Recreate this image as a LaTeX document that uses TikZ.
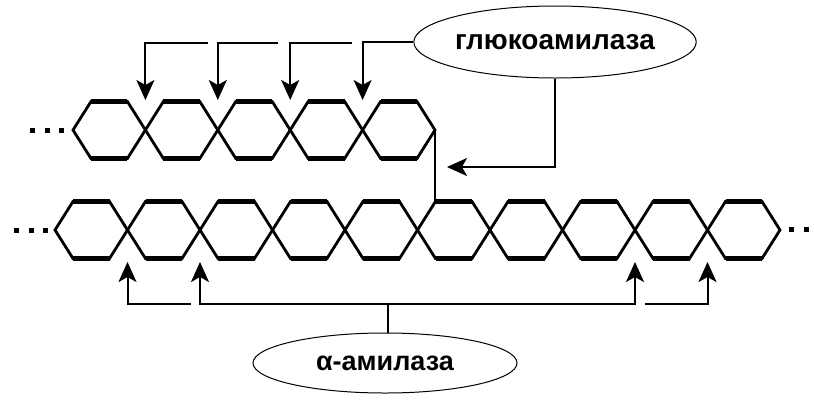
\documentclass[tikz,border=0pt]{standalone}
\usepackage{fontspec}
\setmainfont{Liberation Sans}
\usetikzlibrary{arrows.meta,shapes.geometric}
\begin{document}
\begin{tikzpicture}[x=1pt,y=-1pt,
  hexline/.style={line width=2.8pt,line join=miter},
  hexbar/.style={line width=4.2pt},
  conn/.style={line width=2pt},
  arr/.style={conn,-{Stealth[length=20pt,width=18pt,inset=5pt]}},
  enzyme/.style={ellipse,draw,line width=1pt,inner sep=0pt,minimum width=264pt},
  dotsq/.style={fill,minimum size=5pt,inner sep=0pt}]
\useasboundingbox (0,0) rectangle (814,400);

% top chain (5 units)
\foreach \i in {0,...,4}{
  \pgfmathsetmacro\xl{73+72.4*\i}
  \draw[hexline] (\xl,130) -- ++(18,-28.5) -- ++(36.4,0) -- ++(18,28.5)
     -- ++(-18,28.5) -- ++(-36.4,0) -- cycle;
  \draw[hexbar] (\xl+18,101.5) -- ++(36.4,0);
  \draw[hexbar] (\xl+18,158.5) -- ++(36.4,0);
}
% bottom chain (10 units)
\foreach \i in {0,...,9}{
  \pgfmathsetmacro\xl{55+72.5*\i}
  \draw[hexline] (\xl,230) -- ++(18,-28.5) -- ++(36.5,0) -- ++(18,28.5)
     -- ++(-18,28.5) -- ++(-36.5,0) -- cycle;
  \draw[hexbar] (\xl+18,201.5) -- ++(36.5,0);
  \draw[hexbar] (\xl+18,258.5) -- ++(36.5,0);
}
% branch point link
\coordinate (br1) at (435,130);
\coordinate (br2) at (435,201.5);
\draw[line width=2.6pt] (br1) -- (br2);

% dots
\foreach \x in {32,47,61} \node[dotsq] (dt\x) at (\x,130) {};
\foreach \x in {16,31,45} \node[dotsq] (db\x) at (\x,230) {};
\foreach \x in {791,806} \node[dotsq] (dr\x) at (\x,229) {};

% enzymes
\node[enzyme,minimum height=72pt,font=\fontsize{28}{33}\selectfont\bfseries]
  (G) at (555,42) {\raisebox{-2.5pt}{глюкоамилаза}};
\node[enzyme,minimum height=60pt,font=\fontsize{27}{32}\selectfont\bfseries]
  (A) at (385,363) {\raisebox{-5pt}{α-амилаза}};

% targets top
\coordinate (g1) at (145.4,100);
\coordinate (g2) at (217.8,100);
\coordinate (g3) at (290.2,100);
\coordinate (g4) at (362.6,100);
\coordinate (h1) at (208,43);
\coordinate (h2) at (278,43);
\coordinate (h3) at (352,43);
\draw[arr] (G.west) -| (g4);
\draw[arr] (h3) -| (g3);
\draw[arr] (h2) -| (g2);
\draw[arr] (h1) -| (g1);
\coordinate (gl) at (447,167);
\draw[arr] (G.south) |- (gl);

% targets bottom
\coordinate (a1) at (127.5,262);
\coordinate (a2) at (200,262);
\coordinate (a8) at (635,262);
\coordinate (a9) at (707.5,262);
\coordinate (mid) at (388,304);
\coordinate (la) at (191,304);
\coordinate (ra) at (645,304);
\draw[conn] (A.north -| mid) -- (mid);
\draw[arr] (mid) -| (a2);
\draw[arr] (mid) -| (a8);
\draw[arr] (la) -| (a1);
\draw[arr] (ra) -| (a9);
\end{tikzpicture}
\end{document}
